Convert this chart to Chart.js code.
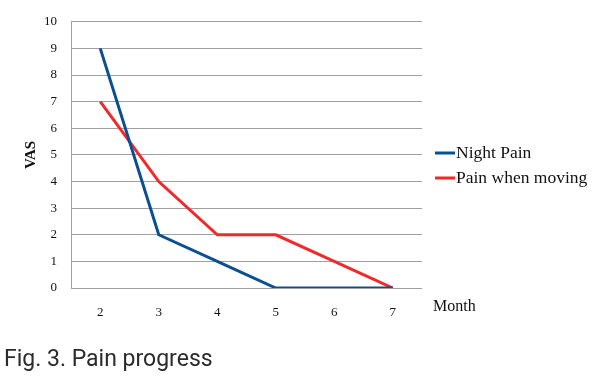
<!DOCTYPE html>
<html><head><meta charset="utf-8">
<script src="https://cdn.jsdelivr.net/npm/chart.js@4/dist/chart.umd.min.js"></script>
<style>
html,body{margin:0;padding:0;background:#fff;}
#wrap{position:relative;width:599px;height:379px;}
#cap{position:absolute;left:4px;top:347px;line-height:23px;font-family:Roboto,"Open Sans","DejaVu Sans",sans-serif;font-size:23px;color:#2b2b2b;}
</style></head>
<body>
<div id="wrap"><canvas id="c" width="599" height="379"></canvas><div id="cap">Fig. 3. Pain progress</div></div>
<script>
const months = ['2','3','4','5','6','7'];
const nightPain = [9,2,1,0,0,0];
const painMoving = [7,4,2,2,1,0];
const seriesNames = ['Night Pain','Pain when moving'];
const colors = ['#0b4f93','#f02a2a'];

const extra = {
  id:'extra',
  afterDraw(chart){
    const ctx = chart.ctx, a = chart.chartArea;
    ctx.save();
    ctx.fillStyle = '#111';
    ctx.font = 'bold 15px "Liberation Serif", "DejaVu Serif", serif';
    ctx.textAlign='center'; ctx.textBaseline='middle';
    ctx.translate(31, (a.top+a.bottom)/2);
    ctx.rotate(-Math.PI/2);
    ctx.fillText('VAS',0,0);
    ctx.restore();
    ctx.save();
    ctx.fillStyle = '#111';
    ctx.font = '16px "Liberation Serif", "DejaVu Serif", serif';
    ctx.textAlign='left'; ctx.textBaseline='middle';
    ctx.fillText('Month', 433, 307);
    // legend
    ctx.font = '17.5px "Liberation Serif", "DejaVu Serif", serif';
    const ys=[153,178];
    for(let i=0;i<2;i++){
      ctx.strokeStyle=colors[i]; ctx.lineWidth=3;
      ctx.beginPath(); ctx.moveTo(435,ys[i]); ctx.lineTo(455,ys[i]); ctx.stroke();
      ctx.fillText(seriesNames[i], 456, ys[i]);
    }
    ctx.restore();
  }
};

new Chart(document.getElementById('c'),{
  type:'line',
  data:{labels:months,datasets:[
    {label:seriesNames[0],data:nightPain,borderColor:colors[0],borderWidth:3,pointRadius:0,tension:0},
    {label:seriesNames[1],data:painMoving,borderColor:colors[1],borderWidth:3,pointRadius:0,tension:0}
  ]},
  options:{
    responsive:false,animation:false,
    layout:{padding:{left:0,top:20,right:177,bottom:0}},
    plugins:{legend:{display:false},tooltip:{enabled:false}},
    scales:{
      x:{offset:true,
        grid:{display:false,drawTicks:false},
        border:{display:false},
        ticks:{padding:17,color:'#111',font:{family:'"Liberation Serif", "DejaVu Serif", serif',size:13}},
        afterFit(s){s.height=91;}
      },
      y:{min:0,max:10,
        ticks:{stepSize:1,padding:14,color:'#111',font:{family:'"Liberation Serif", "DejaVu Serif", serif',size:13}},
        grid:{color:'#a0a0a0',lineWidth:1,drawTicks:false},
        border:{display:true,color:'#a0a0a0',width:1},
        afterFit(s){s.width=71;}
      }
    }
  },
  plugins:[extra]
});
</script>
</body></html>
